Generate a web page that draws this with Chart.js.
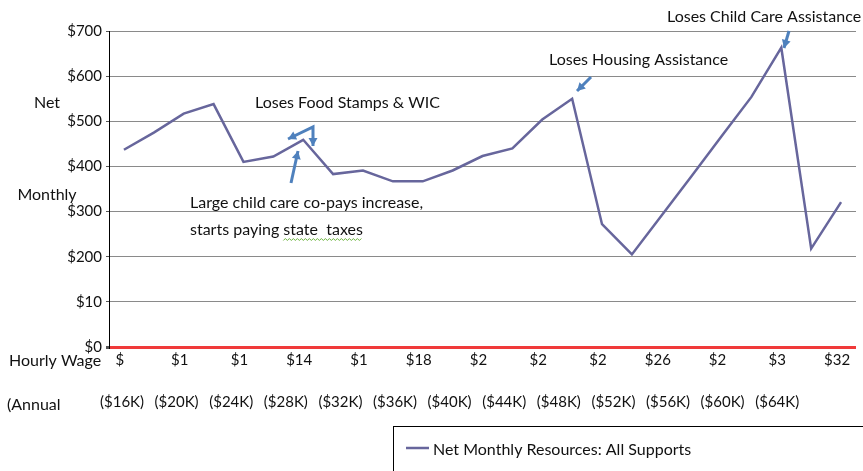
<!DOCTYPE html>
<html><head><meta charset="utf-8">
<script src="https://cdn.jsdelivr.net/npm/chart.js@4.4.0/dist/chart.umd.min.js"></script>
<style>html,body{margin:0;padding:0;background:#fff;overflow:hidden}#wrap{width:863px;height:471px;position:relative}</style>
</head><body><div id="wrap"><canvas id="c" width="863" height="471"></canvas></div>
<script>
// ---- data ----
const categories = ["$8","$9","$10","$11","$12","$13","$14","$15","$16","$17","$18","$19","$20","$21","$22","$23","$24","$25","$26","$27","$28","$29","$30","$31","$32"];
const hourlyTickLabels = ["$","$1","$1","$14","$1","$18","$2","$2","$2","$26","$2","$3","$32"];
const annualLabels = ["($16K)","($20K)","($24K)","($28K)","($32K)","($36K)","($40K)","($44K)","($48K)","($52K)","($56K)","($60K)","($64K)"];
const netMonthly = [437,475,517,538,410,422,459,383,391,367,367,391,423,440,504,550,272,205,292,379,467,554,663,218,321];
const yTickLabels = ["$0","$10","$200","$300","$400","$500","$600","$700"];
const seriesName = "Net Monthly Resources: All Supports";

const FONT = "Lato";
const TEXT = "#111111";
const LINE = "#67669c";
const ARROW = "#4f81bd";

function arrowHead(ctx, x0, y0, x1, y1) {
  const a = Math.atan2(y1 - y0, x1 - x0), L = 8, W = 4.5;
  ctx.beginPath();
  ctx.moveTo(x1, y1);
  ctx.lineTo(x1 - L*Math.cos(a) + W*Math.sin(a), y1 - L*Math.sin(a) - W*Math.cos(a));
  ctx.lineTo(x1 - L*Math.cos(a) - W*Math.sin(a), y1 - L*Math.sin(a) + W*Math.cos(a));
  ctx.closePath(); ctx.fill();
}
function arrow(ctx, pts, headStart) {
  ctx.beginPath();
  ctx.moveTo(pts[0][0], pts[0][1]);
  for (let i = 1; i < pts.length; i++) ctx.lineTo(pts[i][0], pts[i][1]);
  ctx.stroke();
  const n = pts.length;
  arrowHead(ctx, pts[n-2][0], pts[n-2][1], pts[n-1][0], pts[n-1][1]);
  if (headStart) arrowHead(ctx, pts[1][0], pts[1][1], pts[0][0], pts[0][1]);
}

const annotations = {
  id: "annotations",
  afterDraw(chart) {
    const ctx = chart.ctx;
    ctx.save();
    ctx.fillStyle = TEXT;
    ctx.textBaseline = "middle";
    ctx.textAlign = "center";
    ctx.font = "15px " + FONT;
    annualLabels.forEach((t, i) => ctx.fillText(t, 122 + i * 54.6, 402));
    ctx.font = "16px " + FONT;
    ctx.fillText("Net", 47, 103);
    ctx.fillText("Monthly", 47, 195);
    ctx.textAlign = "left";
    ctx.fillText("Hourly Wage", 9, 361);
    ctx.fillText("(Annual", 7, 405);
    ctx.fillText("Loses Food Stamps & WIC", 255, 103);
    ctx.fillText("Large child care co-pays increase,", 190, 203);
    const l2 = "starts paying state  taxes";
    ctx.fillText(l2, 190, 230);
    ctx.fillText("Loses Housing Assistance", 549, 60);
    ctx.fillText("Loses Child Care Assistance", 667, 17);
    // spell-check squiggle
    const sx0 = 190 + ctx.measureText("starts paying ").width;
    const sx1 = 190 + ctx.measureText(l2).width;
    ctx.strokeStyle = "#6cb33f"; ctx.lineWidth = 1;
    ctx.beginPath();
    for (let x = sx0, k = 0; x <= sx1; x += 2, k++) {
      const y = 239.5 + (k % 2 ? -1 : 1);
      if (k === 0) ctx.moveTo(x, y); else ctx.lineTo(x, y);
    }
    ctx.stroke();
    // arrows
    ctx.strokeStyle = ARROW; ctx.fillStyle = ARROW; ctx.lineWidth = 3; ctx.lineCap = "butt";
    arrow(ctx, [[291, 183], [298, 151]], false);
    arrow(ctx, [[288, 139], [313, 127], [313, 146]], true);
    arrow(ctx, [[591, 77], [577, 91]], false);
    arrow(ctx, [[789, 31], [784, 48]], false);
    // legend
    ctx.strokeStyle = "#000"; ctx.lineWidth = 1;
    ctx.strokeRect(393.5, 426.5, 480, 60);
    ctx.strokeStyle = LINE; ctx.lineWidth = 2.5;
    ctx.beginPath(); ctx.moveTo(406, 448); ctx.lineTo(429, 448); ctx.stroke();
    ctx.fillStyle = TEXT; ctx.textAlign = "left";
    ctx.fillText(seriesName, 433, 450);
    ctx.restore();
  }
};

new Chart(document.getElementById("c"), {
  type: "line",
  data: {
    labels: categories,
    datasets: [{
      label: seriesName,
      data: netMonthly,
      borderColor: LINE,
      borderWidth: 2.5,
      pointRadius: 0,
      tension: 0,
      fill: false
    }]
  },
  options: {
    responsive: false,
    animation: false,
    devicePixelRatio: 1,
    layout: { padding: { left: 0, right: 7, top: 31, bottom: 0 } },
    plugins: { legend: { display: false }, tooltip: { enabled: false } },
    scales: {
      x: {
        type: "category",
        offset: true,
        grid: { display: false, drawTicks: false },
        border: { display: false },
        ticks: {
          autoSkip: false, maxRotation: 0, minRotation: 0, padding: 4, labelOffset: -4,
          color: TEXT, font: { family: FONT, size: 15 },
          callback: (v, i) => (i % 2 === 0 ? hourlyTickLabels[i / 2] : "")
        },
        afterFit: s => { s.height = 124; }
      },
      y: {
        min: 0, max: 700,
        ticks: {
          stepSize: 100, padding: 4, color: TEXT,
          font: { family: FONT, size: 15 },
          callback: v => yTickLabels[Math.round(v / 100)]
        },
        grid: {
          color: c => (c.tick && c.tick.value === 0 ? "#f03a3a" : "#8a8a8a"),
          lineWidth: c => (c.tick && c.tick.value === 0 ? 3 : 1),
          tickLength: 3,
          tickColor: "#555"
        },
        border: { color: "#000", width: 1 },
        afterFit: s => { s.width = 109; }
      }
    }
  },
  plugins: [annotations]
});
</script>
</body></html>
